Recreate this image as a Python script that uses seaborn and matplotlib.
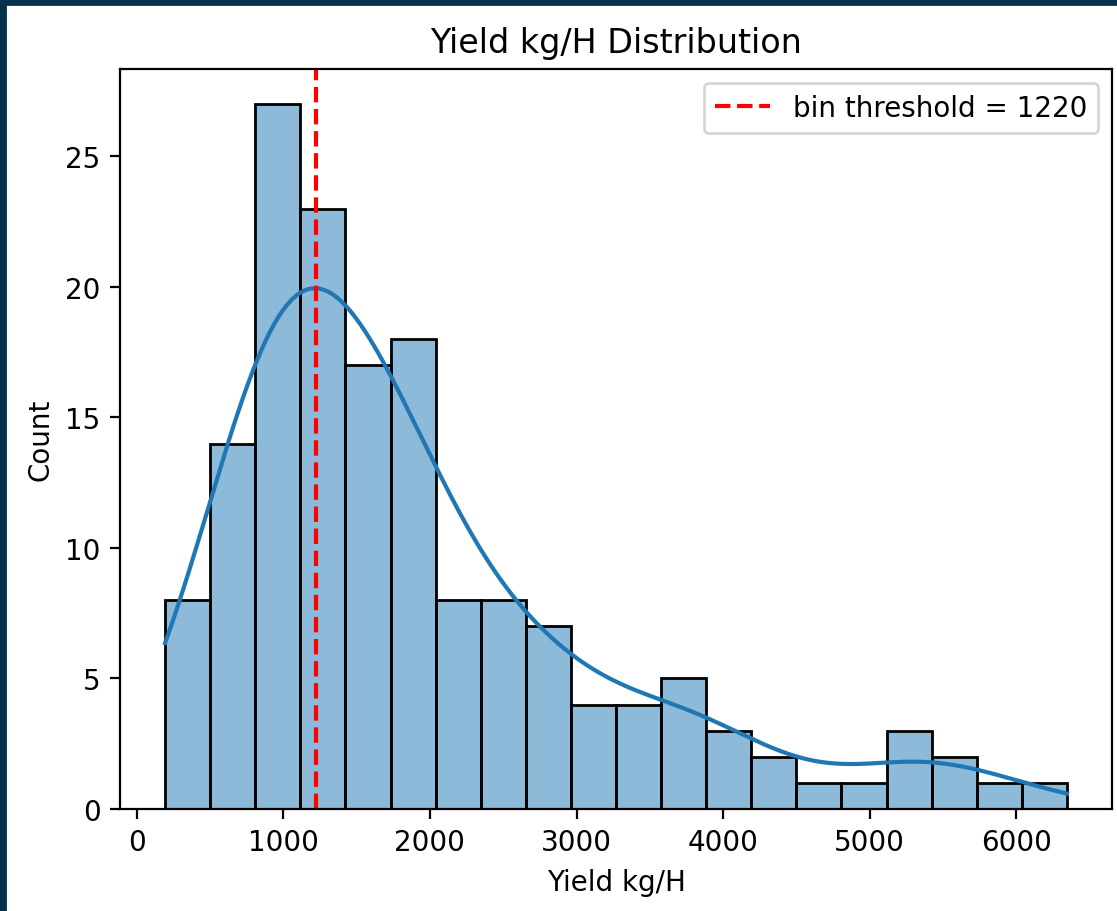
import matplotlib
matplotlib.use("Agg")
import matplotlib.pyplot as plt
import numpy as np
import seaborn as sns
from matplotlib.patches import Rectangle

# bins
bin_edges = np.linspace(193, 6346, 21)
bin_counts = [8, 14, 27, 23, 17, 18, 8, 8, 7, 4, 4, 5, 3, 2, 1, 1, 3, 2, 1, 1]
threshold = 1220

centers = (bin_edges[:-1] + bin_edges[1:]) / 2
yield_kg = np.repeat(centers, bin_counts)

fig = plt.figure(figsize=(1117 / 200, 912 / 200), dpi=200)
ax = fig.add_axes([120 / 1117, 102 / 912, 992 / 1117, 740 / 912])

sns.histplot(x=yield_kg, bins=bin_edges, kde=True, ax=ax,
             kde_kws={"clip": (bin_edges[0], bin_edges[-1]), "cut": 3, "bw_adjust": 0.95})
ax.axvline(threshold, color="red", linestyle="--", label=f"bin threshold = {threshold}")
ax.legend(loc="upper right")

ax.set_title("Yield kg/H Distribution")
ax.set_xlabel("Yield kg/H")
ax.set_ylabel("Count")

# dark frame from the notebook screenshot (top and left)
fig.patches.append(Rectangle((0, 1 - 5 / 912), 1, 5 / 912, transform=fig.transFigure,
                             color="#03324a", zorder=10))
fig.patches.append(Rectangle((0, 0), 5 / 1117, 1, transform=fig.transFigure,
                             color="#03324a", zorder=10))

fig.savefig("out.png", dpi=200)
